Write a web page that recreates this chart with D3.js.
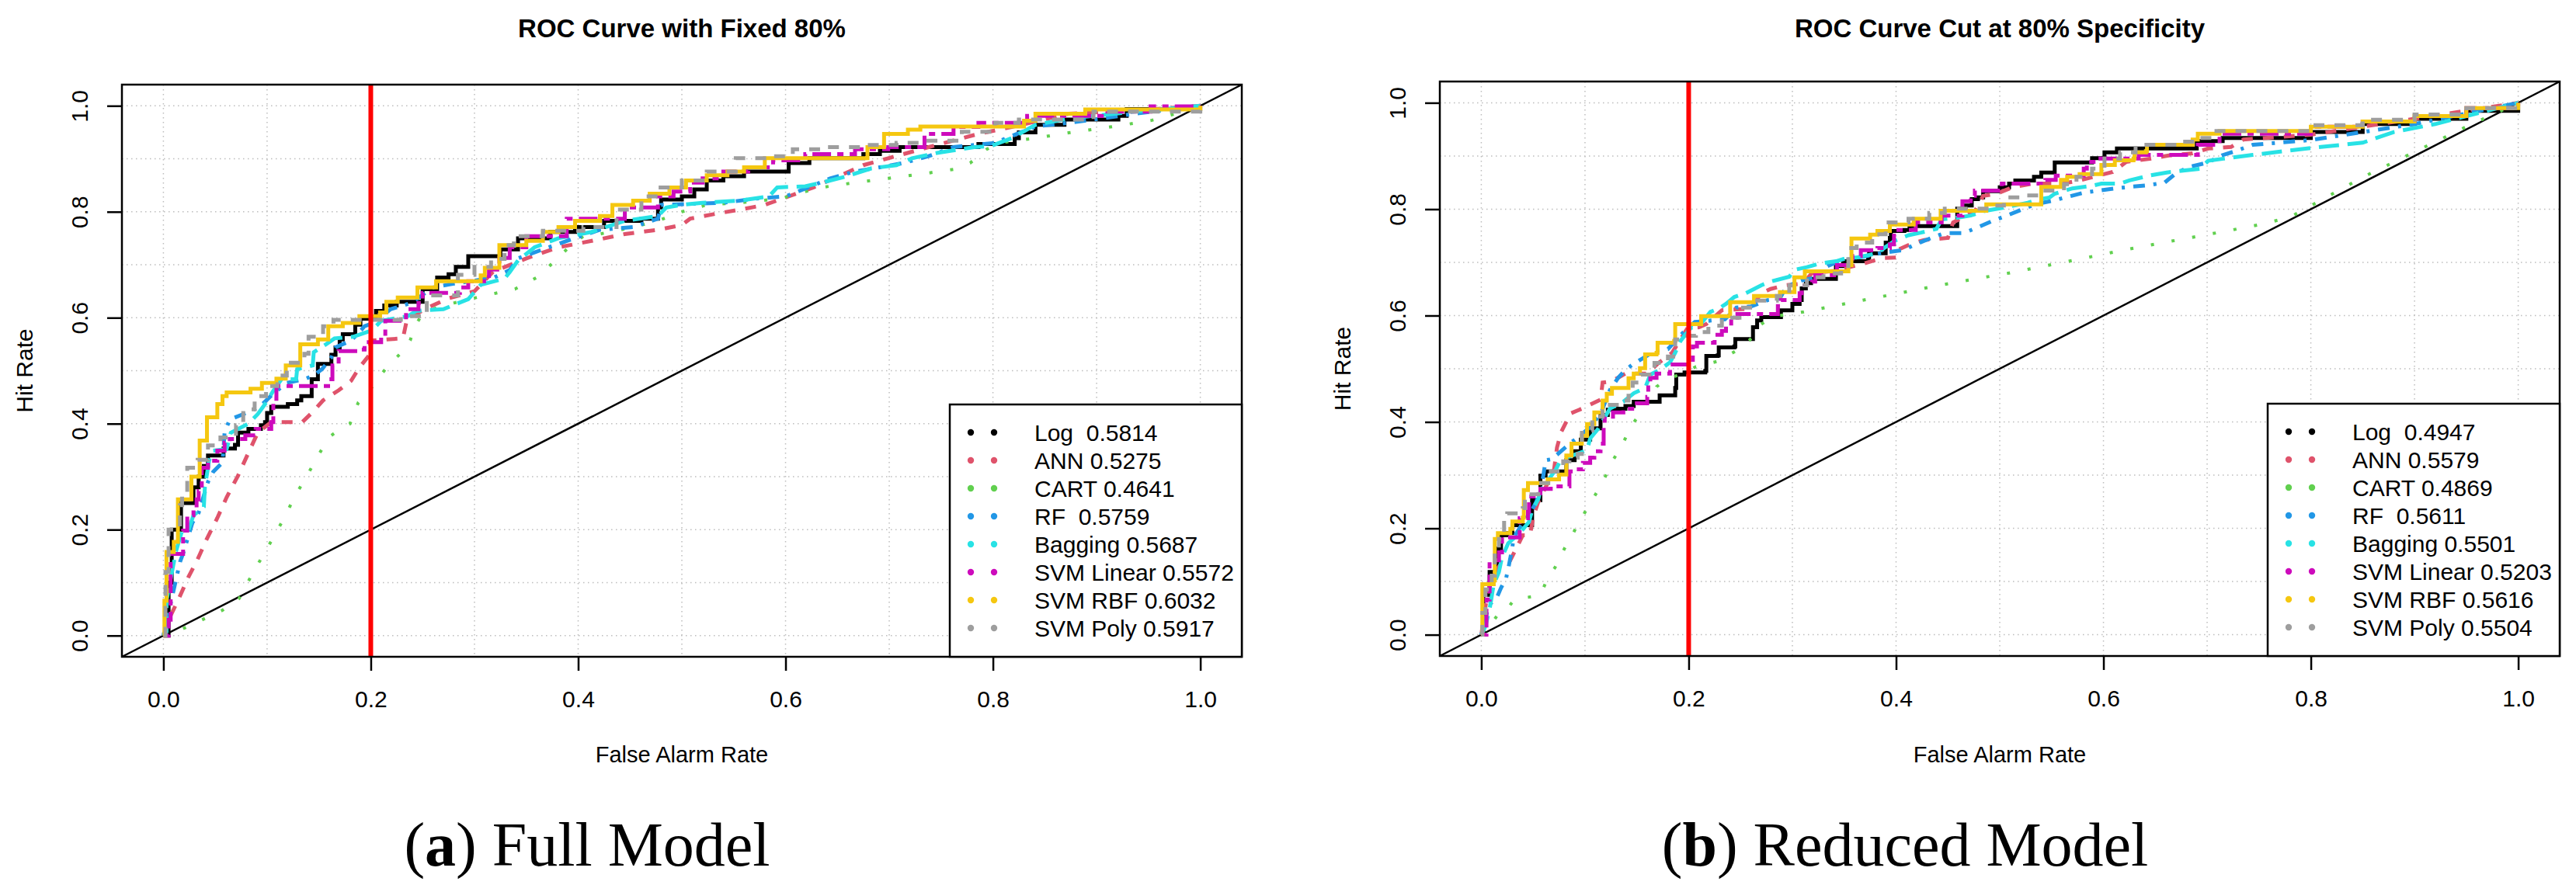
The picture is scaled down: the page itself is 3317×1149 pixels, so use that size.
<!DOCTYPE html>
<html>
<head>
<meta charset="utf-8">
<script src="https://cdn.jsdelivr.net/npm/d3@7"></script>
<style>
  body { margin: 0; background: #fff; }
  svg { display: block; }
</style>
</head>
<body>
<svg id="chart" width="3317" height="1149"></svg>
<script>
const modelNames = ['Log ', 'ANN', 'CART', 'RF ', 'Bagging', 'SVM Linear', 'SVM RBF', 'SVM Poly']
const aucFull = ['0.5814', '0.5275', '0.4641', '0.5759', '0.5687', '0.5572', '0.6032', '0.5917']
const aucReduced = ['0.4947', '0.5579', '0.4869', '0.5611', '0.5501', '0.5203', '0.5616', '0.5504']
const panelTitles = ['ROC Curve with Fixed 80%', 'ROC Curve Cut at 80% Specificity']
const captionLetters = ['a', 'b']
const captionTexts = ['Full Model', 'Reduced Model']
const axisTicks = [0, 0.2, 0.4, 0.6, 0.8, 1.0]
const gridTicks = [0, 0.1, 0.2, 0.3, 0.4, 0.5, 0.6, 0.7, 0.8, 0.9, 1.0]
const cutoffRate = 0.2

// full model curves, [false alarm rate, hit rate]
const fullLog = [[0,0],[0.005,0.1],[0.008,0.2],[0.017,0.25],[0.029,0.28],[0.034,0.3],[0.039,0.32],[0.043,0.34],[0.058,0.353],[0.069,0.36],[0.072,0.383],[0.082,0.39],[0.094,0.397],[0.098,0.403],[0.1,0.42],[0.104,0.432],[0.12,0.437],[0.129,0.444],[0.133,0.452],[0.143,0.484],[0.149,0.513],[0.162,0.53],[0.166,0.544],[0.17,0.559],[0.173,0.569],[0.185,0.587],[0.19,0.598],[0.205,0.613],[0.213,0.623],[0.225,0.63],[0.25,0.654],[0.264,0.676],[0.275,0.682],[0.282,0.696],[0.294,0.716],[0.325,0.729],[0.342,0.75],[0.373,0.762],[0.397,0.771],[0.425,0.783],[0.461,0.787],[0.477,0.808],[0.48,0.823],[0.5,0.829],[0.512,0.842],[0.524,0.859],[0.54,0.867],[0.56,0.876],[0.603,0.892],[0.623,0.901],[0.675,0.909],[0.691,0.915],[0.71,0.922],[0.786,0.928],[0.821,0.939],[0.825,0.95],[0.841,0.964],[0.869,0.974],[0.921,0.981],[0.929,0.994],[1,1]]
const fullAnn = [[0,0],[0.005,0.03],[0.014,0.066],[0.024,0.11],[0.033,0.144],[0.042,0.183],[0.052,0.222],[0.061,0.261],[0.072,0.302],[0.082,0.345],[0.091,0.383],[0.104,0.403],[0.134,0.403],[0.144,0.422],[0.154,0.444],[0.169,0.463],[0.181,0.481],[0.189,0.506],[0.198,0.528],[0.2,0.557],[0.231,0.561],[0.235,0.598],[0.255,0.619],[0.274,0.636],[0.3,0.65],[0.318,0.687],[0.35,0.712],[0.381,0.733],[0.413,0.745],[0.445,0.758],[0.477,0.766],[0.5,0.775],[0.508,0.787],[0.532,0.796],[0.556,0.804],[0.58,0.813],[0.603,0.829],[0.627,0.846],[0.651,0.867],[0.675,0.888],[0.699,0.901],[0.738,0.922],[0.786,0.947],[0.818,0.96],[0.873,0.985],[0.952,0.993],[1,1]]
const fullCart = [[0,0],[0.01,0.005],[0.031,0.024],[0.057,0.048],[0.073,0.07],[0.084,0.11],[0.095,0.148],[0.106,0.185],[0.117,0.224],[0.127,0.264],[0.138,0.3],[0.149,0.339],[0.16,0.375],[0.17,0.389],[0.18,0.4],[0.188,0.44],[0.196,0.456],[0.203,0.474],[0.216,0.508],[0.231,0.537],[0.238,0.557],[0.241,0.576],[0.246,0.595],[0.251,0.611],[0.274,0.625],[0.306,0.64],[0.339,0.654],[0.362,0.678],[0.373,0.699],[0.389,0.729],[0.405,0.754],[0.421,0.758],[0.453,0.771],[0.477,0.783],[0.5,0.8],[0.524,0.813],[0.556,0.817],[0.596,0.825],[0.611,0.834],[0.635,0.846],[0.667,0.855],[0.699,0.863],[0.73,0.871],[0.762,0.88],[0.778,0.892],[0.794,0.918],[0.806,0.93],[0.841,0.939],[0.873,0.949],[0.913,0.96],[0.952,0.972],[0.976,0.985],[1,1]]
const fullRf = [[0,0],[0.003,0.026],[0.016,0.139],[0.019,0.155],[0.028,0.213],[0.034,0.232],[0.043,0.29],[0.048,0.309],[0.057,0.327],[0.059,0.383],[0.064,0.408],[0.077,0.418],[0.093,0.432],[0.105,0.455],[0.119,0.477],[0.136,0.484],[0.145,0.491],[0.153,0.503],[0.162,0.525],[0.166,0.544],[0.181,0.557],[0.189,0.573],[0.194,0.584],[0.204,0.591],[0.211,0.603],[0.219,0.616],[0.239,0.628],[0.26,0.657],[0.279,0.664],[0.297,0.669],[0.319,0.676],[0.334,0.69],[0.342,0.712],[0.366,0.729],[0.389,0.745],[0.421,0.766],[0.453,0.771],[0.477,0.787],[0.48,0.813],[0.54,0.817],[0.572,0.825],[0.6,0.829],[0.627,0.85],[0.643,0.863],[0.667,0.876],[0.691,0.884],[0.714,0.892],[0.738,0.905],[0.762,0.922],[0.802,0.93],[0.818,0.943],[0.841,0.961],[0.873,0.968],[0.905,0.976],[0.936,0.985],[1,1]]
const fullBagging = [[0,0],[0.003,0.007],[0.003,0.066],[0.012,0.158],[0.018,0.198],[0.024,0.198],[0.029,0.227],[0.039,0.243],[0.04,0.28],[0.044,0.33],[0.048,0.349],[0.061,0.352],[0.065,0.383],[0.082,0.4],[0.091,0.418],[0.098,0.437],[0.106,0.462],[0.114,0.484],[0.128,0.484],[0.129,0.503],[0.144,0.51],[0.145,0.535],[0.157,0.55],[0.165,0.561],[0.183,0.564],[0.201,0.576],[0.21,0.594],[0.236,0.603],[0.244,0.613],[0.27,0.616],[0.281,0.625],[0.294,0.635],[0.306,0.662],[0.329,0.674],[0.334,0.686],[0.342,0.708],[0.358,0.733],[0.381,0.75],[0.413,0.762],[0.445,0.783],[0.477,0.792],[0.485,0.808],[0.5,0.813],[0.52,0.817],[0.556,0.821],[0.584,0.829],[0.592,0.846],[0.619,0.848],[0.635,0.855],[0.659,0.867],[0.683,0.882],[0.707,0.888],[0.722,0.901],[0.746,0.911],[0.782,0.922],[0.798,0.924],[0.818,0.939],[0.841,0.964],[0.873,0.976],[0.936,0.989],[1,1]]
const fullSvmLinear = [[0,0],[0.005,0.03],[0.007,0.154],[0.019,0.198],[0.023,0.227],[0.029,0.239],[0.032,0.257],[0.034,0.273],[0.037,0.317],[0.043,0.33],[0.052,0.349],[0.059,0.364],[0.064,0.371],[0.079,0.378],[0.089,0.39],[0.104,0.403],[0.106,0.447],[0.109,0.471],[0.142,0.471],[0.162,0.484],[0.163,0.51],[0.169,0.537],[0.189,0.54],[0.194,0.554],[0.21,0.566],[0.214,0.594],[0.234,0.616],[0.246,0.628],[0.25,0.647],[0.286,0.657],[0.294,0.669],[0.314,0.691],[0.324,0.713],[0.334,0.733],[0.35,0.754],[0.389,0.787],[0.445,0.808],[0.477,0.829],[0.492,0.838],[0.508,0.855],[0.52,0.863],[0.54,0.876],[0.564,0.884],[0.588,0.897],[0.619,0.909],[0.667,0.918],[0.699,0.922],[0.734,0.947],[0.762,0.96],[0.786,0.968],[0.833,0.981],[0.905,0.989],[0.952,0.999],[1,1]]
const fullSvmRbf = [[0,0],[0.001,0.066],[0.003,0.158],[0.01,0.177],[0.014,0.257],[0.027,0.3],[0.035,0.368],[0.042,0.412],[0.052,0.437],[0.057,0.452],[0.061,0.459],[0.084,0.466],[0.095,0.477],[0.109,0.485],[0.118,0.51],[0.132,0.55],[0.149,0.559],[0.159,0.584],[0.173,0.59],[0.189,0.603],[0.209,0.61],[0.215,0.63],[0.226,0.638],[0.245,0.657],[0.263,0.669],[0.306,0.68],[0.31,0.694],[0.324,0.737],[0.35,0.745],[0.366,0.762],[0.381,0.771],[0.397,0.783],[0.421,0.792],[0.433,0.813],[0.453,0.821],[0.469,0.834],[0.488,0.846],[0.504,0.859],[0.524,0.869],[0.544,0.876],[0.56,0.884],[0.58,0.901],[0.675,0.901],[0.679,0.922],[0.695,0.947],[0.718,0.955],[0.73,0.961],[0.825,0.961],[0.83,0.972],[0.841,0.985],[0.889,0.993],[1,1]]
const fullSvmPoly = [[0,0],[0.002,0.12],[0.005,0.2],[0.016,0.246],[0.018,0.27],[0.023,0.317],[0.033,0.332],[0.043,0.359],[0.055,0.374],[0.07,0.397],[0.077,0.427],[0.088,0.452],[0.099,0.471],[0.11,0.491],[0.119,0.515],[0.136,0.532],[0.14,0.564],[0.154,0.584],[0.164,0.596],[0.214,0.596],[0.229,0.603],[0.254,0.642],[0.284,0.681],[0.3,0.696],[0.316,0.711],[0.329,0.737],[0.338,0.754],[0.366,0.764],[0.405,0.771],[0.437,0.804],[0.461,0.829],[0.477,0.846],[0.5,0.859],[0.524,0.876],[0.552,0.901],[0.588,0.905],[0.607,0.918],[0.635,0.922],[0.675,0.926],[0.707,0.93],[0.73,0.934],[0.77,0.951],[0.802,0.968],[0.825,0.974],[0.897,0.989],[1,1]]

// reduced model curves, [false alarm rate, hit rate]
const reducedLog = [[0,0],[0.002,0.075],[0.008,0.118],[0.016,0.162],[0.019,0.187],[0.025,0.191],[0.03,0.206],[0.042,0.206],[0.049,0.253],[0.057,0.257],[0.057,0.299],[0.062,0.307],[0.082,0.328],[0.09,0.345],[0.096,0.367],[0.105,0.388],[0.115,0.413],[0.122,0.423],[0.132,0.425],[0.139,0.43],[0.147,0.438],[0.172,0.45],[0.187,0.464],[0.188,0.489],[0.196,0.493],[0.216,0.496],[0.217,0.524],[0.228,0.525],[0.229,0.54],[0.244,0.542],[0.245,0.556],[0.262,0.578],[0.266,0.591],[0.27,0.597],[0.289,0.61],[0.3,0.622],[0.307,0.629],[0.309,0.651],[0.313,0.661],[0.318,0.669],[0.342,0.693],[0.349,0.702],[0.373,0.709],[0.374,0.717],[0.39,0.737],[0.394,0.746],[0.395,0.759],[0.408,0.761],[0.413,0.768],[0.459,0.801],[0.467,0.807],[0.473,0.819],[0.479,0.822],[0.484,0.834],[0.5,0.841],[0.509,0.848],[0.515,0.854],[0.533,0.861],[0.54,0.869],[0.553,0.888],[0.589,0.896],[0.601,0.907],[0.613,0.914],[0.69,0.928],[0.715,0.934],[0.8,0.945],[0.85,0.96],[0.9,0.97],[0.95,0.985],[1,1]]
const reducedAnn = [[0,0],[0.005,0.066],[0.01,0.109],[0.021,0.139],[0.028,0.14],[0.04,0.187],[0.047,0.187],[0.05,0.221],[0.055,0.25],[0.07,0.308],[0.073,0.352],[0.077,0.381],[0.086,0.416],[0.097,0.425],[0.115,0.442],[0.117,0.474],[0.124,0.476],[0.132,0.483],[0.139,0.491],[0.16,0.491],[0.171,0.511],[0.184,0.53],[0.199,0.577],[0.21,0.578],[0.217,0.584],[0.232,0.61],[0.26,0.613],[0.27,0.642],[0.279,0.65],[0.293,0.657],[0.31,0.66],[0.319,0.68],[0.34,0.684],[0.369,0.698],[0.387,0.708],[0.4,0.709],[0.401,0.723],[0.416,0.736],[0.427,0.742],[0.45,0.746],[0.455,0.775],[0.476,0.796],[0.484,0.825],[0.497,0.829],[0.512,0.841],[0.532,0.848],[0.56,0.848],[0.577,0.854],[0.609,0.87],[0.622,0.889],[0.646,0.895],[0.663,0.901],[0.686,0.905],[0.701,0.914],[0.723,0.917],[0.735,0.931],[0.8,0.94],[0.85,0.955],[0.9,0.97],[0.95,0.985],[1,1]]
const reducedCart = [[0,0],[0.003,0.007],[0.011,0.024],[0.017,0.041],[0.026,0.051],[0.032,0.067],[0.055,0.073],[0.06,0.088],[0.064,0.107],[0.071,0.126],[0.076,0.146],[0.081,0.165],[0.087,0.184],[0.092,0.204],[0.098,0.223],[0.103,0.242],[0.109,0.26],[0.115,0.279],[0.12,0.299],[0.124,0.318],[0.136,0.358],[0.146,0.396],[0.152,0.413],[0.158,0.432],[0.165,0.445],[0.169,0.466],[0.176,0.477],[0.187,0.486],[0.197,0.493],[0.207,0.504],[0.228,0.514],[0.237,0.524],[0.246,0.534],[0.255,0.547],[0.263,0.562],[0.268,0.581],[0.277,0.593],[0.288,0.6],[0.311,0.607],[0.332,0.615],[0.366,0.628],[0.442,0.657],[0.509,0.68],[0.574,0.705],[0.619,0.723],[0.674,0.743],[0.719,0.759],[0.751,0.771],[0.78,0.785],[0.85,0.86],[0.95,0.955],[1,1]]
const reducedRf = [[0,0],[0.002,0.012],[0.007,0.055],[0.015,0.07],[0.019,0.088],[0.024,0.107],[0.026,0.124],[0.03,0.165],[0.031,0.182],[0.041,0.213],[0.049,0.235],[0.053,0.25],[0.057,0.272],[0.06,0.301],[0.062,0.328],[0.068,0.33],[0.087,0.362],[0.094,0.372],[0.107,0.394],[0.116,0.42],[0.124,0.46],[0.132,0.483],[0.139,0.498],[0.146,0.508],[0.156,0.52],[0.167,0.533],[0.18,0.537],[0.195,0.569],[0.206,0.588],[0.235,0.593],[0.246,0.615],[0.26,0.617],[0.276,0.629],[0.288,0.632],[0.294,0.654],[0.309,0.666],[0.324,0.672],[0.334,0.693],[0.345,0.702],[0.369,0.711],[0.387,0.718],[0.407,0.723],[0.419,0.734],[0.434,0.746],[0.447,0.755],[0.465,0.755],[0.479,0.766],[0.493,0.778],[0.507,0.788],[0.521,0.799],[0.534,0.809],[0.551,0.816],[0.569,0.825],[0.581,0.831],[0.596,0.835],[0.611,0.839],[0.626,0.842],[0.643,0.845],[0.659,0.85],[0.669,0.866],[0.682,0.879],[0.701,0.888],[0.714,0.901],[0.727,0.909],[0.744,0.921],[0.8,0.93],[0.85,0.945],[0.9,0.96],[0.95,0.98],[1,1]]
const reducedBagging = [[0,0],[0.004,0.016],[0.008,0.048],[0.012,0.095],[0.017,0.118],[0.02,0.146],[0.026,0.172],[0.037,0.191],[0.046,0.212],[0.049,0.234],[0.055,0.255],[0.057,0.27],[0.072,0.311],[0.077,0.33],[0.088,0.337],[0.102,0.347],[0.105,0.369],[0.113,0.388],[0.124,0.425],[0.137,0.438],[0.147,0.454],[0.158,0.464],[0.163,0.489],[0.172,0.498],[0.182,0.512],[0.187,0.53],[0.192,0.552],[0.202,0.577],[0.209,0.578],[0.221,0.607],[0.229,0.613],[0.236,0.622],[0.244,0.635],[0.255,0.642],[0.27,0.657],[0.279,0.664],[0.297,0.673],[0.302,0.686],[0.314,0.691],[0.327,0.698],[0.342,0.702],[0.354,0.709],[0.362,0.709],[0.382,0.717],[0.39,0.729],[0.399,0.741],[0.412,0.751],[0.424,0.756],[0.439,0.763],[0.444,0.781],[0.459,0.784],[0.472,0.788],[0.484,0.796],[0.504,0.803],[0.527,0.812],[0.539,0.819],[0.548,0.822],[0.553,0.829],[0.57,0.839],[0.589,0.844],[0.598,0.848],[0.616,0.848],[0.625,0.854],[0.644,0.863],[0.661,0.869],[0.693,0.876],[0.701,0.891],[0.716,0.895],[0.744,0.902],[0.8,0.915],[0.85,0.925],[0.88,0.945],[0.92,0.96],[0.95,0.975],[1,1]]
const reducedSvmLinear = [[0,0],[0.005,0.066],[0.008,0.14],[0.017,0.155],[0.02,0.183],[0.037,0.219],[0.045,0.231],[0.046,0.26],[0.057,0.274],[0.067,0.279],[0.085,0.307],[0.094,0.311],[0.098,0.323],[0.105,0.333],[0.109,0.345],[0.115,0.359],[0.118,0.396],[0.119,0.41],[0.127,0.418],[0.137,0.425],[0.15,0.435],[0.16,0.447],[0.161,0.469],[0.163,0.483],[0.169,0.491],[0.182,0.508],[0.203,0.512],[0.204,0.542],[0.208,0.549],[0.225,0.564],[0.232,0.571],[0.236,0.581],[0.241,0.596],[0.247,0.603],[0.285,0.603],[0.286,0.618],[0.289,0.629],[0.3,0.629],[0.307,0.642],[0.309,0.657],[0.319,0.664],[0.322,0.676],[0.339,0.676],[0.343,0.695],[0.358,0.712],[0.366,0.723],[0.382,0.727],[0.394,0.734],[0.398,0.761],[0.419,0.775],[0.444,0.788],[0.464,0.815],[0.472,0.825],[0.476,0.835],[0.502,0.848],[0.544,0.855],[0.554,0.863],[0.581,0.876],[0.584,0.889],[0.594,0.895],[0.634,0.902],[0.691,0.921],[0.712,0.942],[0.8,0.955],[0.85,0.965],[0.9,0.975],[0.95,0.99],[1,1]]
const reducedSvmRbf = [[0,0],[0.001,0.095],[0.012,0.102],[0.013,0.18],[0.016,0.191],[0.028,0.199],[0.03,0.213],[0.04,0.22],[0.041,0.272],[0.045,0.285],[0.064,0.292],[0.075,0.301],[0.082,0.337],[0.087,0.359],[0.097,0.374],[0.102,0.396],[0.109,0.418],[0.117,0.44],[0.121,0.453],[0.126,0.464],[0.142,0.482],[0.147,0.491],[0.153,0.501],[0.158,0.527],[0.169,0.53],[0.17,0.549],[0.186,0.552],[0.187,0.584],[0.212,0.599],[0.24,0.625],[0.263,0.637],[0.288,0.644],[0.302,0.672],[0.312,0.683],[0.354,0.695],[0.357,0.745],[0.375,0.752],[0.382,0.759],[0.394,0.771],[0.417,0.782],[0.443,0.797],[0.487,0.809],[0.54,0.842],[0.559,0.855],[0.565,0.861],[0.577,0.866],[0.598,0.883],[0.611,0.892],[0.629,0.895],[0.63,0.907],[0.641,0.909],[0.642,0.921],[0.686,0.931],[0.691,0.942],[0.712,0.947],[0.8,0.955],[0.85,0.965],[0.9,0.975],[0.95,0.99],[1,1]]
const reducedSvmPoly = [[0,0],[0.001,0.041],[0.004,0.085],[0.01,0.111],[0.013,0.153],[0.017,0.18],[0.022,0.223],[0.025,0.228],[0.04,0.238],[0.042,0.264],[0.055,0.285],[0.067,0.307],[0.079,0.326],[0.085,0.333],[0.093,0.34],[0.097,0.384],[0.107,0.41],[0.117,0.42],[0.121,0.432],[0.135,0.44],[0.142,0.464],[0.146,0.474],[0.154,0.489],[0.167,0.511],[0.18,0.523],[0.187,0.555],[0.195,0.562],[0.207,0.569],[0.219,0.581],[0.232,0.596],[0.249,0.615],[0.266,0.628],[0.285,0.637],[0.297,0.657],[0.314,0.672],[0.33,0.679],[0.347,0.686],[0.354,0.727],[0.362,0.737],[0.377,0.753],[0.39,0.775],[0.412,0.782],[0.432,0.793],[0.447,0.801],[0.491,0.807],[0.504,0.822],[0.524,0.826],[0.542,0.835],[0.562,0.847],[0.574,0.861],[0.589,0.876],[0.601,0.895],[0.616,0.907],[0.631,0.921],[0.673,0.927],[0.691,0.934],[0.709,0.947],[0.8,0.958],[0.85,0.968],[0.9,0.978],[0.95,0.99],[1,1]]

// styles per model (R default palette, lty 1..6,1,2)
const lineColors = ['#000000', '#DF536B', '#61D04F', '#2297E6', '#28E2E5', '#CD0BBC', '#F5C710', '#9E9E9E']
const lineDashes = [null, '14,13', '4,23', '4,11,15,11', '26,11', '8,8,24,8', null, '14,13']
const lineSteps = [true, false, false, false, false, true, true, true]

const SANS = '"Liberation Sans", Arial, Helvetica, sans-serif'
const SERIF = '"Liberation Serif", "Times New Roman", serif'

const svg = d3.select('#chart')
svg.append('rect').attr('width', 3317).attr('height', 1149).attr('fill', '#fff')

function drawPanel({ left, top, bottom, curves, aucs, title, letter, caption, captionX }) {
  const plotW = 1442
  const x = d3.scaleLinear().domain([-0.04, 1.04]).range([left, left + plotW])
  const y = d3.scaleLinear().domain([-0.04, 1.04]).range([bottom, top])
  const g = svg.append('g')

  // dotted grid
  g.selectAll('.vgrid').data(gridTicks).enter().append('line')
    .attr('class', 'vgrid')
    .attr('x1', (d) => x(d)).attr('x2', (d) => x(d))
    .attr('y1', top).attr('y2', bottom)
  g.selectAll('.hgrid').data(gridTicks).enter().append('line')
    .attr('class', 'hgrid')
    .attr('x1', left).attr('x2', left + plotW)
    .attr('y1', (d) => y(d)).attr('y2', (d) => y(d))
  g.selectAll('.vgrid, .hgrid')
    .attr('stroke', '#bdbdbd')
    .attr('stroke-width', 1.5)
    .attr('stroke-dasharray', '1.5,4.5')

  // chance diagonal
  g.append('line')
    .attr('x1', x(-0.04)).attr('y1', y(-0.04))
    .attr('x2', x(1.04)).attr('y2', y(1.04))
    .attr('stroke', '#000').attr('stroke-width', 2.5)

  curves.forEach((pts, i) => {
    const line = d3.line()
      .x((d) => x(d[0]))
      .y((d) => y(d[1]))
      .curve(lineSteps[i] ? d3.curveStepAfter : d3.curveLinear)
    g.append('path')
      .datum(pts)
      .attr('d', line)
      .attr('fill', 'none')
      .attr('stroke', lineColors[i])
      .attr('stroke-width', i === 2 ? 4 : 5)
      .attr('stroke-dasharray', lineDashes[i])
      .attr('stroke-linejoin', 'miter')
  })

  // cut-off line
  g.append('line')
    .attr('x1', x(cutoffRate)).attr('x2', x(cutoffRate))
    .attr('y1', top).attr('y2', bottom)
    .attr('stroke', '#FF0000').attr('stroke-width', 6)

  const xAxis = d3.axisBottom(x).tickValues(axisTicks).tickFormat(d3.format('.1f')).tickSize(18).tickSizeOuter(0)
  g.append('g')
    .attr('transform', `translate(0, ${bottom})`)
    .call(xAxis)
    .attr('font-family', SANS).attr('font-size', 30)
    .call((a) => a.select('.domain').remove())
    .call((a) => a.selectAll('line').attr('stroke-width', 2.5))
    .call((a) => a.selectAll('text').attr('y', 65).attr('dy', 0).attr('fill', '#000'))

  const yAxis = d3.axisLeft(y).tickValues(axisTicks).tickFormat(d3.format('.1f')).tickSize(19).tickSizeOuter(0)
  g.append('g')
    .attr('transform', `translate(${left}, 0)`)
    .call(yAxis)
    .attr('font-family', SANS).attr('font-size', 30)
    .call((a) => a.select('.domain').remove())
    .call((a) => a.selectAll('line').attr('stroke-width', 2.5))
    .call((a) => a.selectAll('text')
      .attr('transform', 'rotate(-90)')
      .attr('x', 0).attr('y', -44).attr('dy', 0)
      .attr('text-anchor', 'middle').attr('fill', '#000'))

  // plot box
  g.append('rect')
    .attr('x', left).attr('y', top)
    .attr('width', plotW).attr('height', bottom - top)
    .attr('fill', 'none').attr('stroke', '#000').attr('stroke-width', 2.5)

  // legend
  const lgW = 376, lgH = 325
  const lg = g.append('g').attr('transform', `translate(${left + plotW - lgW}, ${bottom - lgH})`)
  lg.append('rect')
    .attr('width', lgW).attr('height', lgH)
    .attr('fill', '#fff').attr('stroke', '#000').attr('stroke-width', 2.5)
  const rows = lg.selectAll('.row')
    .data(modelNames.map((name, i) => ({ name, auc: aucs[i], i })))
    .enter().append('g')
    .attr('class', 'row')
    .attr('transform', (d) => `translate(0, ${36 + d.i * 36})`)
  rows.selectAll('circle').data((d) => [d, d]).enter().append('circle')
    .attr('cx', (d, j) => 27 + j * 30).attr('cy', 0).attr('r', 4.2)
    .attr('fill', (d) => lineColors[d.i])
  rows.append('text')
    .attr('x', 109).attr('dy', '0.36em')
    .attr('font-family', SANS).attr('font-size', 30)
    .style('white-space', 'pre')
    .text((d) => `${d.name} ${d.auc}`)

  const cx = left + plotW / 2
  g.append('text')
    .attr('x', cx).attr('y', 48)
    .attr('text-anchor', 'middle')
    .attr('font-family', SANS).attr('font-size', 33).attr('font-weight', 'bold')
    .text(title)

  g.append('text')
    .attr('x', cx).attr('y', 982)
    .attr('text-anchor', 'middle')
    .attr('font-family', SANS).attr('font-size', 29)
    .text('False Alarm Rate')

  g.append('text')
    .attr('transform', `translate(${left - 115}, ${(top + bottom) / 2}) rotate(-90)`)
    .attr('text-anchor', 'middle')
    .attr('font-family', SANS).attr('font-size', 30)
    .text('Hit Rate')

  const cap = g.append('text')
    .attr('x', captionX).attr('y', 1115)
    .attr('text-anchor', 'middle')
    .attr('font-family', SERIF).attr('font-size', 80)
  cap.append('tspan').text('(')
  cap.append('tspan').attr('font-weight', 'bold').text(letter)
  cap.append('tspan').text(') ' + caption)
}

drawPanel({
  left: 157, top: 109, bottom: 846,
  curves: [fullLog, fullAnn, fullCart, fullRf, fullBagging, fullSvmLinear, fullSvmRbf, fullSvmPoly],
  aucs: aucFull, title: panelTitles[0], letter: captionLetters[0], caption: captionTexts[0], captionX: 756
})
drawPanel({
  left: 1854, top: 105, bottom: 845,
  curves: [reducedLog, reducedAnn, reducedCart, reducedRf, reducedBagging, reducedSvmLinear, reducedSvmRbf, reducedSvmPoly],
  aucs: aucReduced, title: panelTitles[1], letter: captionLetters[1], caption: captionTexts[1], captionX: 2453
})
</script>
</body>
</html>
